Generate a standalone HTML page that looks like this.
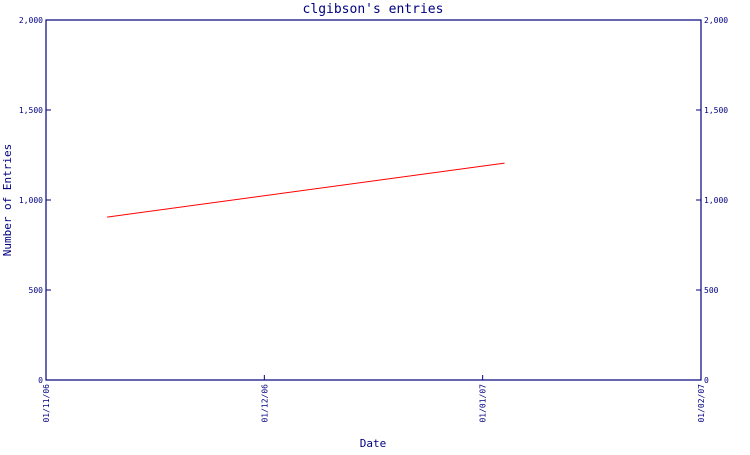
<!DOCTYPE html>
<html><head><meta charset="utf-8"><style>
body{margin:0;background:#fff;}
svg text{font-family:"DejaVu Sans Mono","Liberation Mono",monospace;fill:#000080;}
</style></head><body>
<svg width="750" height="450" xmlns="http://www.w3.org/2000/svg">
<text x="373" y="13" text-anchor="middle" font-size="13">clgibson's entries</text>
<text transform="translate(11,200) rotate(-90)" text-anchor="middle" font-size="11">Number of Entries</text>
<text x="373" y="447" text-anchor="middle" font-size="11">Date</text>
<g id="axes"></g>
<g id="marks"></g>
</svg>
<script>
const xTickLabels=["01/11/06","01/12/06","01/01/07","01/02/07"];
const yTicks=[0,500,1000,1500,2000];
const yTickLabels=["0","500","1,000","1,500","2,000"];
const seriesX=[0.28,2.1];
const seriesY=[905,1205];
const L=46,R=701,T=20,B=380;
const xs=v=>L+v/(xTickLabels.length-1)*(R-L);
const ys=v=>B-v/2000*(B-T);
const NS="http://www.w3.org/2000/svg";
const ax=document.getElementById('axes'),mk=document.getElementById('marks');
function mkEl(t,a,p){const e=document.createElementNS(NS,t);for(const k in a)e.setAttribute(k,a[k]);p.appendChild(e);return e;}
const frame=mkEl('rect',{x:L,y:T,width:R-L,height:B-T,fill:'none',stroke:'#000080','stroke-width':1.2},ax);


yTicks.forEach((v,i)=>{
  const y=ys(v);
  const tl=mkEl('line',{x1:L,x2:L+5,y1:y,y2:y,stroke:'#000080'},ax);
  
  
  const tr=mkEl('line',{x1:R-5,x2:R,y1:y,y2:y,stroke:'#000080'},ax);
  
  
  const a=mkEl('text',{x:L-3,y:y+3,'text-anchor':'end','font-size':8},ax);a.textContent=yTickLabels[i];
  
  
  const b=mkEl('text',{x:R+3,y:y+3,'font-size':8},ax);b.textContent=yTickLabels[i];
  
  
});
xTickLabels.forEach((s,i)=>{
  const x=xs(i);
  const t=mkEl('line',{x1:x,x2:x,y1:B-5,y2:B,stroke:'#000080'},ax);
  
  
  const tx=mkEl('text',{transform:`translate(${x+3},${B+4}) rotate(-90)`,'text-anchor':'end','font-size':8},ax);tx.textContent=s;
  
  
});
const pts=seriesX.map((v,i)=>xs(v)+','+ys(seriesY[i])).join(' ');
const pl=mkEl('polyline',{points:pts,fill:'none',stroke:'#ff0000','stroke-width':1},mk);


</script>
</body></html>
